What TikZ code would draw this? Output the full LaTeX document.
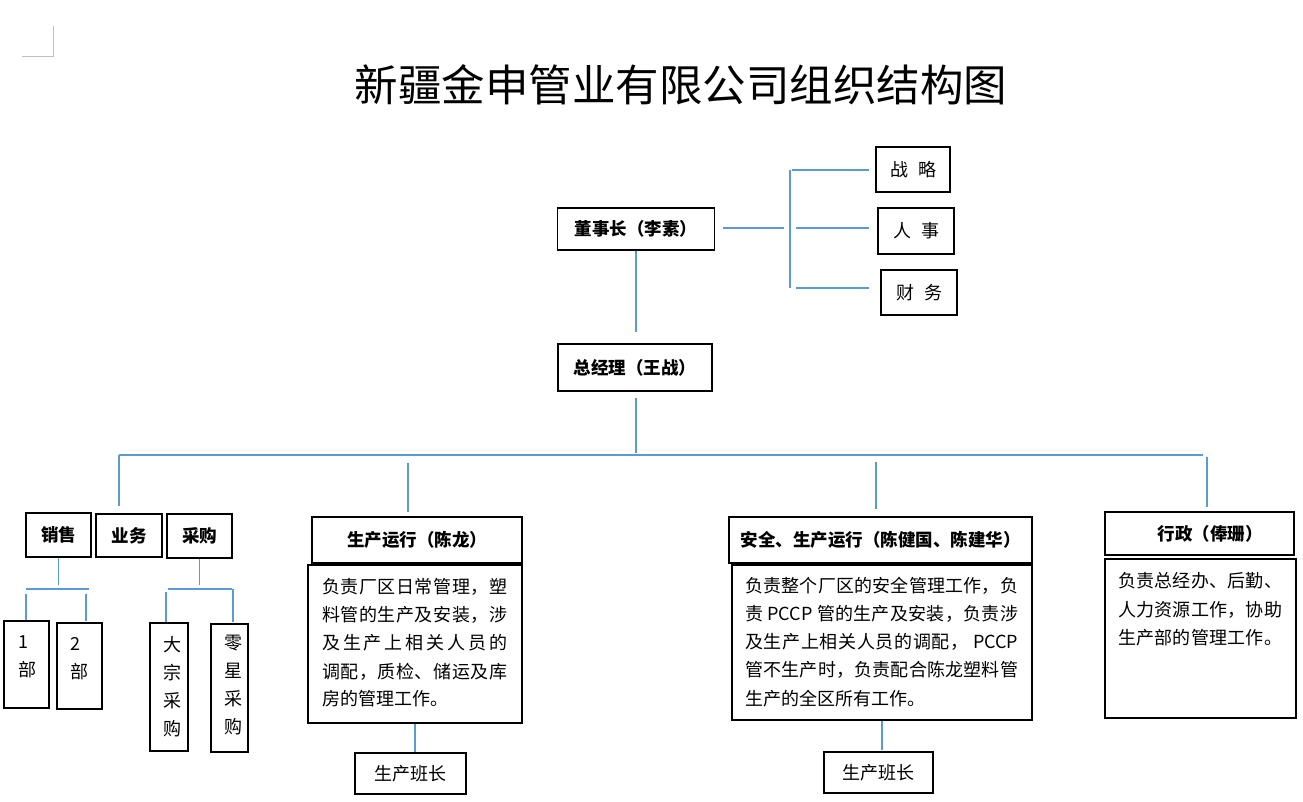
\documentclass[tikz,border=0pt]{standalone}
\usepackage{fontspec}
\setmainfont{Noto Sans CJK SC}
\definecolor{lineblue}{HTML}{5B9BD5}
\definecolor{markgray}{HTML}{BFBFBF}
\newcommand\fT{\fontsize{43.5}{48}\selectfont}
\newcommand\fH{\fontsize{17.5}{21}\selectfont\bfseries}
\newcommand\fB{\fontsize{18}{28}\selectfont}
\newcommand\jline[2]{\makebox[#1][s]{\spaceskip=0pt plus 1fil\xspaceskip=0pt plus 1fil #2}}
\begin{document}
\begin{tikzpicture}[x=1pt,y=-1pt,
  box/.style={draw=black,line width=1.1pt,inner sep=0pt},
  conn/.style={draw=lineblue,line width=1.2pt},
  txt/.style={inner sep=0pt}]
\fill[white] (0,0) rectangle (1303,802);
\useasboundingbox (0,0) rectangle (1303,802);

% corner mark
\coordinate (mk1) at (53,26);
\coordinate (mk2) at (53,57);
\coordinate (mk3) at (22,57);
\draw[markgray,line width=1pt] (mk1) -- (mk2) -- (mk3);

% title
\node[txt,font=\fT] (title) at (681,85) {新疆金申管业有限公司组织结构图};

% top
\node[box,minimum width=157,minimum height=42,font=\fH] (dsz) at (636,229) {董事长（李素）};
\node[box,minimum width=74,minimum height=45,font=\fB] (zl) at (913,169.5) {\jline{46pt}{战 略}};
\node[box,minimum width=76,minimum height=46,font=\fB] (rs) at (916,231) {\jline{46pt}{人 事}};
\node[box,minimum width=76,minimum height=45,font=\fB] (cw) at (919,292.5) {\jline{46pt}{财 务}};
\node[box,minimum width=154,minimum height=47,font=\fH] (zjl) at (635,367.5) {总经理（王战）};

\coordinate (a1) at (723,228);
\coordinate (a2) at (784,228);
\coordinate (v1) at (790,170);
\coordinate (v2) at (790,288);
\coordinate (h1a) at (792,170);
\coordinate (h1b) at (869,170);
\coordinate (h2a) at (796,228);
\coordinate (h2b) at (869,228);
\coordinate (h3a) at (796,288);
\coordinate (h3b) at (869,288);
\draw[conn] (a1) -- (a2);
\draw[conn] (v1) -- (v2);
\draw[conn] (h1a) -- (h1b);
\draw[conn] (h2a) -- (h2b);
\draw[conn] (h3a) -- (h3b);

\coordinate (d1) at (636,332);
\draw[conn] (dsz.south) -- (d1);
\coordinate (g1) at (636,398);
\coordinate (g2) at (636,453);
\draw[conn] (g1) -- (g2);

% main bus
\coordinate (busL) at (119,455);
\coordinate (busR) at (1203,455);
\draw[conn] (busL) -- (busR);
\coordinate (t1) at (119,506);
\draw[conn] (busL) -- (t1);
\coordinate (t2a) at (408,463);
\coordinate (t2b) at (408,512);
\draw[conn] (t2a) -- (t2b);
\coordinate (t3a) at (876,462);
\coordinate (t3b) at (876,509);
\draw[conn] (t3a) -- (t3b);
\coordinate (t4a) at (1207,457);
\coordinate (t4b) at (1207,507);
\draw[conn] (t4a) -- (t4b);

% left group
\node[box,minimum width=65,minimum height=44,font=\fH] (xs) at (58.5,535) {销售};
\node[box,minimum width=66,minimum height=43,font=\fH] (yw) at (129,535.5) {业务};
\node[box,minimum width=65,minimum height=44,font=\fH] (cg) at (199.5,536) {采购};

\node[box,minimum width=45,minimum height=87] (b1) at (26.5,664.5) {};
\node[box,minimum width=45,minimum height=86] (b2) at (79.5,666) {};
\node[txt,anchor=west,align=left,font=\fB] (b1t) at (18,657) {1\\部};
\node[txt,anchor=west,align=left,font=\fB] (b2t) at (70,658.5) {2\\部};

\node[box,minimum width=38,minimum height=128] (dz) at (169,687) {};
\node[box,minimum width=37,minimum height=128] (lx) at (229.5,688) {};
\node[txt,align=center,font=\fB] (dzt) at (172.5,686.5) {大\\宗\\采\\购};
\node[txt,align=center,font=\fB] (lxt) at (233.5,685.5) {零\\星\\采\\购};

\coordinate (xs1) at (58.5,585);
\draw[conn] (xs.south) -- (xs1);
\coordinate (xsL) at (26,589);
\coordinate (xsR) at (89,589);
\draw[conn] (xsL) -- (xsR);
\coordinate (p1a) at (26,594);
\coordinate (p1b) at (26,620);
\draw[conn] (p1a) -- (p1b);
\coordinate (p2a) at (86,594);
\coordinate (p2b) at (86,621);
\draw[conn] (p2a) -- (p2b);

\coordinate (cg1) at (199.5,585);
\draw[conn] (cg.south) -- (cg1);
\coordinate (cgL) at (168,589);
\coordinate (cgR) at (232,589);
\draw[conn] (cgL) -- (cgR);
\coordinate (q1a) at (166,592);
\coordinate (q1b) at (166,622);
\draw[conn] (q1a) -- (q1b);
\coordinate (q2a) at (233,589);
\coordinate (q2b) at (233,622);
\draw[conn] (q2a) -- (q2b);

% production
\node[box,minimum width=210,minimum height=46,font=\fH] (scH) at (417,540) {生产运行（陈龙）};
\node[box,minimum width=214,minimum height=158] (scD) at (415,644) {};
\node[txt,anchor=west,font=\fB] (sc1) at (322,587) {\jline{185pt}{负 责 厂 区 日 常 管 理 ， 塑}};
\node[txt,anchor=west,font=\fB] (sc2) at (322,615) {\jline{185pt}{料 管 的 生 产 及 安 装 ， 涉}};
\node[txt,anchor=west,font=\fB] (sc3) at (322,643) {\jline{185pt}{及 生 产 上 相 关 人 员 的}};
\node[txt,anchor=west,font=\fB] (sc4) at (322,672) {\jline{185pt}{调 配 ， 质 检 、 储 运 及 库}};
\node[txt,anchor=west,font=\fB] (sc5) at (322,699) {房的管理工作。};
\node[box,minimum width=111,minimum height=41,font=\fB] (bz1) at (410.5,773.5) {生产班长};
\coordinate (sc9) at (415,752);
\draw[conn] (scD.south) -- (sc9);

% safety
\node[box,minimum width=303,minimum height=46,font=\fH] (aqH) at (880.5,540) {安全、生产运行（陈健国、陈建华）};
\node[box,minimum width=300,minimum height=155] (aqD) at (882,642.5) {};
\node[txt,anchor=west,font=\fB] (aq1) at (745,586) {\jline{273pt}{负 责 整 个 厂 区 的 安 全 管 理 工 作 ， 负}};
\node[txt,anchor=west,font=\fB] (aq2) at (745,614) {\jline{273pt}{责\hspace{4pt} PCCP\hspace{4pt} 管 的 生 产 及 安 装 ， 负 责 涉}};
\node[txt,anchor=west,font=\fB] (aq3) at (745,642) {\jline{273pt}{及 生 产 上 相 关 人 员 的 调 配 ，\hspace{4pt} PCCP}};
\node[txt,anchor=west,font=\fB] (aq4) at (745,670) {\jline{273pt}{管 不 生 产 时 ， 负 责 配 合 陈 龙 塑 料 管}};
\node[txt,anchor=west,font=\fB] (aq5) at (745,699) {生产的全区所有工作。};
\node[box,minimum width=109,minimum height=41,font=\fB] (bz2) at (878.5,772.5) {生产班长};
\coordinate (aq9) at (882,750);
\draw[conn] (aqD.south) -- (aq9);

% admin
\node[box,minimum width=189,minimum height=43,font=\fH] (xzH) at (1199.5,533.5) {\hspace*{21pt}行政（俸珊）};
\node[box,minimum width=191,minimum height=159] (xzD) at (1200.5,638.5) {};
\node[txt,anchor=west,font=\fB] (xz1) at (1118,581) {\jline{164pt}{负 责 总 经 办 、 后 勤 、}};
\node[txt,anchor=west,font=\fB] (xz2) at (1118,610) {\jline{164pt}{人 力 资 源 工 作 ， 协 助}};
\node[txt,anchor=west,font=\fB] (xz3) at (1118,638) {\jline{164pt}{生 产 部 的 管 理 工 作 。}};
\end{tikzpicture}
\end{document}
